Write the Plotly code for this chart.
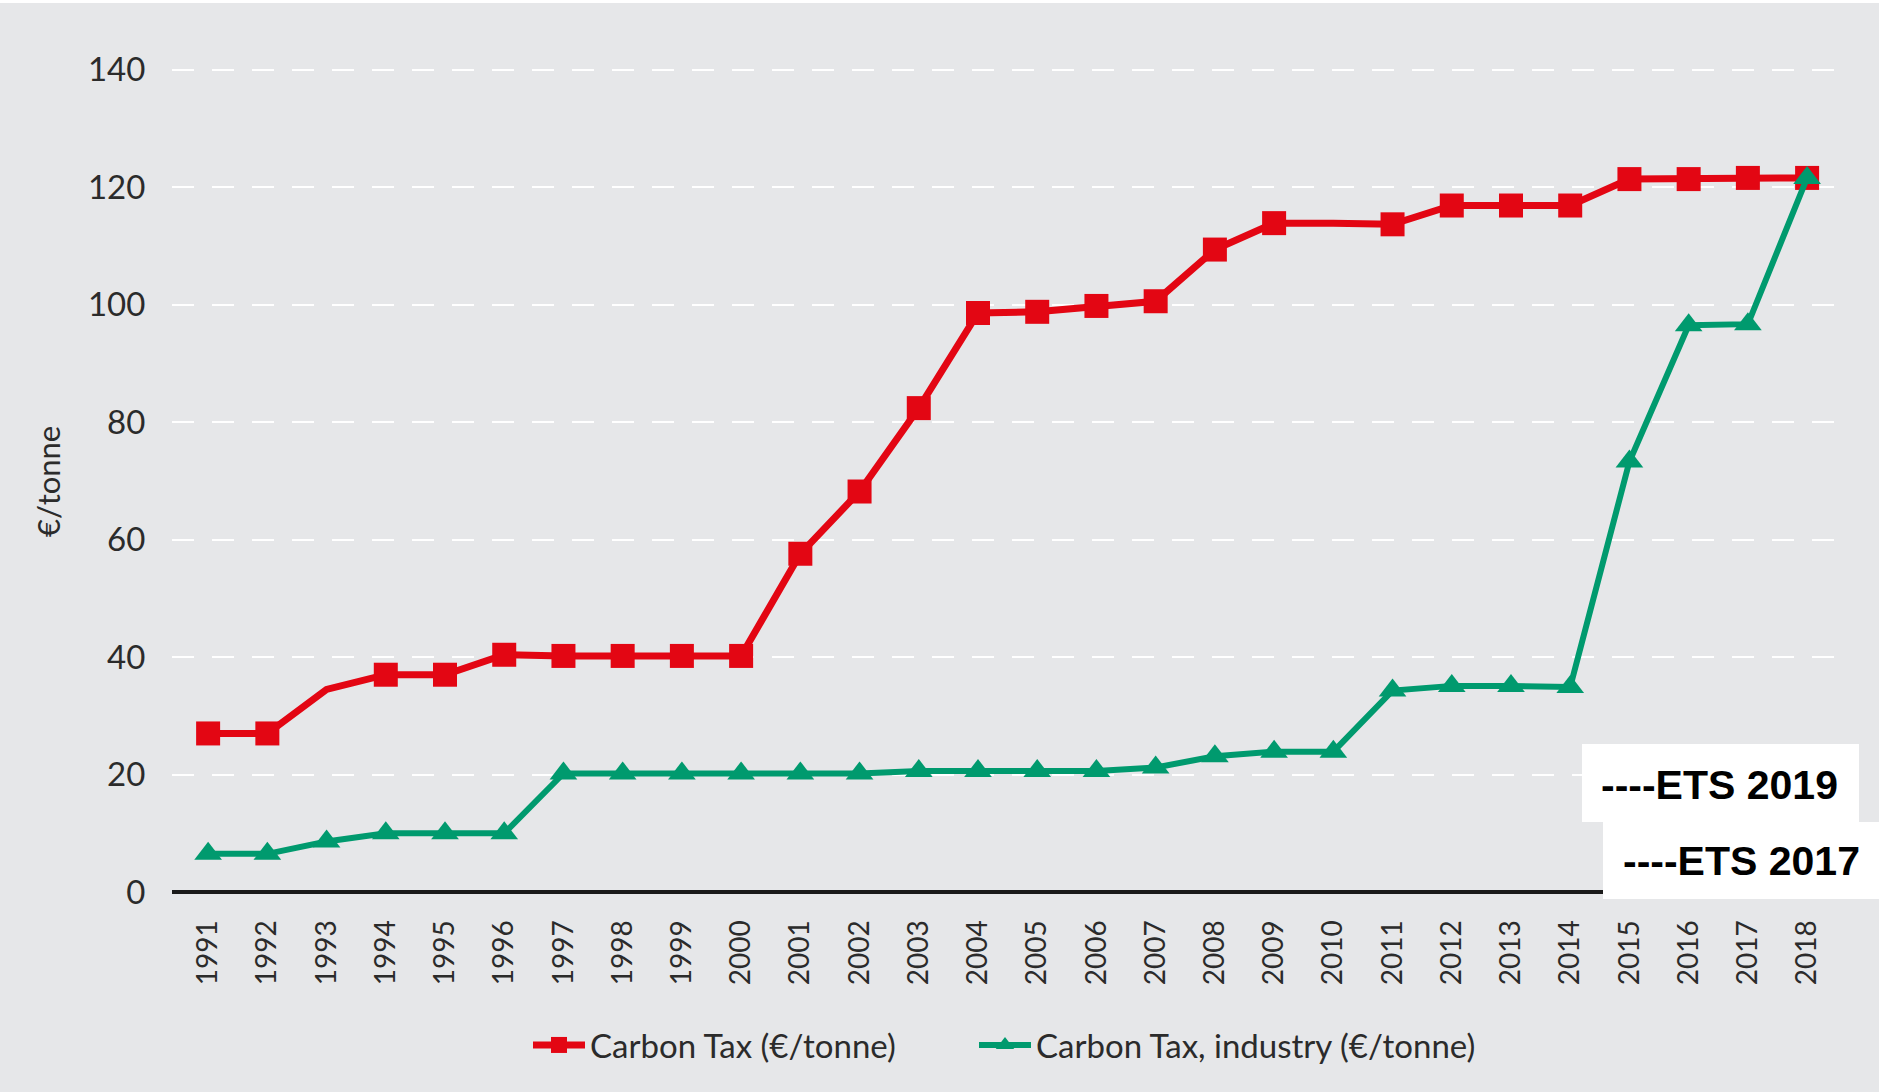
import plotly.graph_objects as go

# ---------------- data ----------------
years = list(range(1991, 2019))
carbon_tax = [27.0, 27.0, 34.5, 37.0, 37.0, 40.4, 40.2, 40.2, 40.2, 40.2,
              57.6, 68.2, 82.4, 98.6, 98.8, 99.8, 100.6, 109.4, 113.9, 113.9,
              113.7, 116.9, 116.9, 116.9, 121.4, 121.4, 121.6, 121.6]
carbon_tax_industry = [6.5, 6.5, 8.6, 10.0, 10.0, 10.0, 20.2, 20.2, 20.2, 20.2,
                       20.2, 20.2, 20.6, 20.6, 20.6, 20.6, 21.2, 23.1, 23.9, 23.9,
                       34.3, 35.1, 35.1, 34.9, 73.3, 96.5, 96.7, 121.6]
# years where the red series shows no marker in the original
red_unmarked_years = [1993, 2010]
y_ticks = [0, 20, 40, 60, 80, 100, 120, 140]
series_names = ["Carbon Tax (€/tonne)", "Carbon Tax, industry (€/tonne)"]
ets_labels = ["----ETS 2019", "----ETS 2017"]

# ---------------- layout geometry (pixels) ----------------
W, H = 1879, 1092
Y_MAX = 141.0
UNIT = 822 / 140.0            # pixels per y unit
L, R, B = 172, 34, 200
T = int(round(70 - (Y_MAX - 140) * UNIT))
PW, PH = W - L - R, H - T - B


def px(x):
    return (x - L) / PW


def py(y):
    return (H - B - y) / PH


RED = "#e30613"
GREEN = "#009a6e"
BG = "#e6e7e9"
TXT = "#2b2b2b"
FONT = "Lato"

red_sizes = [0 if y in red_unmarked_years else 24 for y in years]

fig = go.Figure()
fig.add_trace(go.Scatter(
    x=years, y=carbon_tax, name=series_names[0], mode="lines+markers",
    line=dict(color=RED, width=7),
    marker=dict(symbol="square", size=red_sizes, color=RED, opacity=1,
                line=dict(width=0)),
    legend="legend",
))
fig.add_trace(go.Scatter(
    x=years, y=carbon_tax_industry, name=series_names[1], mode="lines+markers",
    line=dict(color=GREEN, width=6),
    marker=dict(symbol="triangle-up", size=24, color=GREEN, opacity=1,
                line=dict(width=0)),
    legend="legend2",
))

legend_common = dict(orientation="h", y=py(1045), yanchor="middle", xanchor="left",
                     font=dict(size=33, color=TXT, family=FONT),
                     bgcolor="rgba(0,0,0,0)", itemwidth=52)

fig.update_layout(
    width=W, height=H,
    margin=dict(l=L, r=R, t=T, b=B, pad=0),
    paper_bgcolor=BG, plot_bgcolor=BG,
    font=dict(family=FONT, color=TXT),
    showlegend=True,
    legend=dict(x=px(528), **legend_common),
    legend2=dict(x=px(974), **legend_common),
    xaxis=dict(
        range=[1990.39, 2018.64], tickmode="array", tickvals=years,
        ticktext=[str(y) for y in years], tickangle=-90,
        tickfont=dict(size=28, color=TXT, family=FONT),
        showgrid=False, zeroline=False, showline=False,
        ticks="outside", ticklen=16, tickcolor="rgba(0,0,0,0)",
    ),
    yaxis=dict(
        range=[0, Y_MAX], tickmode="array", tickvals=y_ticks,
        tickfont=dict(size=33, color=TXT, family=FONT),
        showgrid=True, gridcolor="#ffffff", gridwidth=2, griddash="22px,18px",
        zeroline=True, zerolinecolor="#1a1a1a", zerolinewidth=4,
        showline=False, ticks="outside", ticklen=19, tickcolor="rgba(0,0,0,0)",
    ),
)

# y-axis title as annotation
fig.add_annotation(x=px(48), y=py(482), xref="paper", yref="paper",
                   text="€/tonne", textangle=-90, showarrow=False,
                   xanchor="center", yanchor="middle",
                   font=dict(size=31, color=TXT, family=FONT))

# thin white strip at the very top
fig.add_shape(type="rect", xref="paper", yref="paper",
              x0=px(0), x1=px(W), y0=py(3), y1=py(0),
              fillcolor="#ffffff", line=dict(width=0), layer="above")

# ETS overlay boxes
boxes = [(1582, 744, 1859, 822), (1603, 822, 1879, 899)]
centers = [(1719, 785), (1741, 861)]
for (x0, y0, x1, y1), (cx, cy), label in zip(boxes, centers, ets_labels):
    fig.add_shape(type="rect", xref="paper", yref="paper",
                  x0=px(x0), x1=px(x1), y0=py(y1), y1=py(y0),
                  fillcolor="#ffffff", line=dict(width=0), layer="above")
    fig.add_annotation(x=px(cx), y=py(cy), xref="paper", yref="paper",
                       text="<b>" + label + "</b>", showarrow=False,
                       xanchor="center", yanchor="middle",
                       font=dict(size=41, color="#000000", family="Liberation Sans"))

fig.write_html("out.html",
               config={"displayModeBar": False},
               post_script="document.body.style.margin='0';"
                           "document.body.style.overflow='hidden';")
